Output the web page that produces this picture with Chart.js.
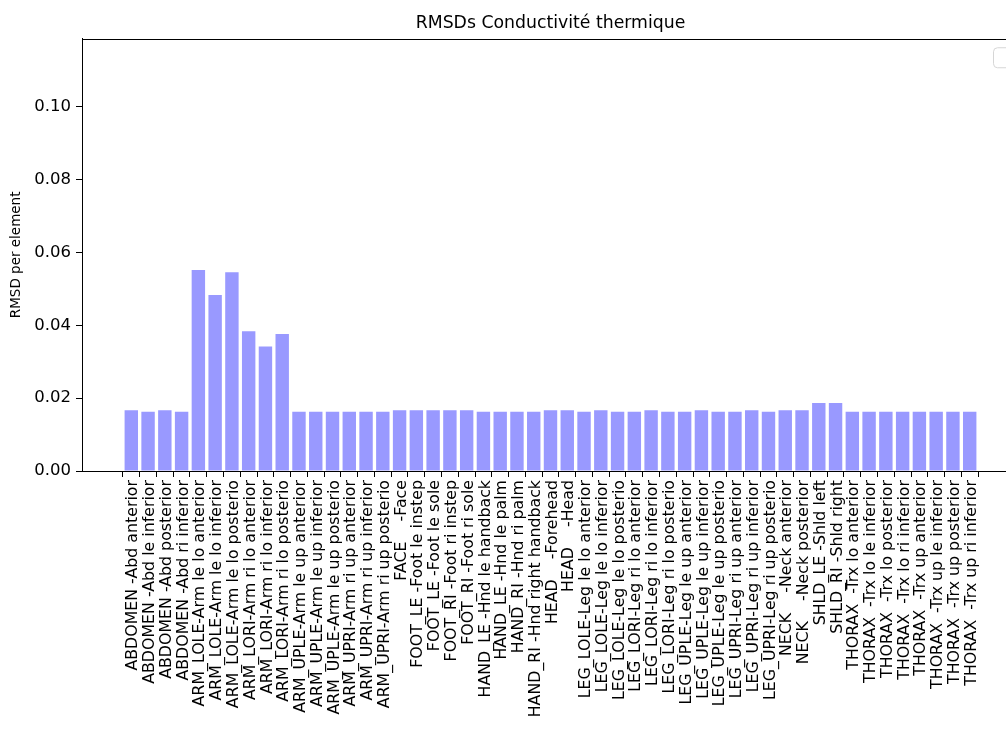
<!DOCTYPE html>
<html>
<head>
<meta charset="utf-8">
<script src="https://cdn.jsdelivr.net/npm/chart.js@4/dist/chart.umd.min.js"></script>
<style>
html,body{margin:0;padding:0;background:#fff;overflow:hidden;width:1006px;height:745px;}
#wrap{position:absolute;left:0;top:0;width:1040px;height:745px;}
</style>
</head>
<body>
<div id="wrap"><canvas id="c"></canvas></div>
<script>
const chartTitle = "RMSDs Conductivité thermique";
const yAxisTitle = "RMSD per element";
const xLabels = [
  "ABDOMEN -Abd anterior","ABDOMEN -Abd le inferior","ABDOMEN -Abd posterior","ABDOMEN -Abd ri inferior",
  "ARM_LOLE-Arm le lo anterior","ARM_LOLE-Arm le lo inferior","ARM_LOLE-Arm le lo posterio",
  "ARM_LORI-Arm ri lo anterior","ARM_LORI-Arm ri lo inferior","ARM_LORI-Arm ri lo posterio",
  "ARM_UPLE-Arm le up anterior","ARM_UPLE-Arm le up inferior","ARM_UPLE-Arm le up posterio",
  "ARM_UPRI-Arm ri up anterior","ARM_UPRI-Arm ri up inferior","ARM_UPRI-Arm ri up posterio",
  "FACE    -Face","FOOT_LE -Foot le instep","FOOT_LE -Foot le sole","FOOT_RI -Foot ri instep","FOOT_RI -Foot ri sole",
  "HAND_LE -Hnd le handback","HAND_LE -Hnd le palm","HAND_RI -Hnd ri palm","HAND_RI -Hnd right handback",
  "HEAD    -Forehead","HEAD    -Head",
  "LEG_LOLE-Leg le lo anterior","LEG_LOLE-Leg le lo inferior","LEG_LOLE-Leg le lo posterio",
  "LEG_LORI-Leg ri lo anterior","LEG_LORI-Leg ri lo inferior","LEG_LORI-Leg ri lo posterio",
  "LEG_UPLE-Leg le up anterior","LEG_UPLE-Leg le up inferior","LEG_UPLE-Leg le up posterio",
  "LEG_UPRI-Leg ri up anterior","LEG_UPRI-Leg ri up inferior","LEG_UPRI-Leg ri up posterio",
  "NECK    -Neck anterior","NECK    -Neck posterior","SHLD_LE -Shld left","SHLD_RI -Shld right",
  "THORAX  -Trx lo anterior","THORAX  -Trx lo le inferior","THORAX  -Trx lo posterior","THORAX  -Trx lo ri inferior",
  "THORAX  -Trx up anterior","THORAX  -Trx up le inferior","THORAX  -Trx up posterior","THORAX  -Trx up ri inferior"
];
const rmsdValues = [
  0.01667,0.0163,0.01667,0.0163,
  0.0552,0.04835,0.0546,
  0.03838,0.03415,0.03764,
  0.0163,0.0163,0.0163,
  0.0163,0.0163,0.0163,
  0.01667,0.01667,0.01667,0.01667,0.01667,
  0.0163,0.0163,0.0163,0.0163,
  0.01667,0.01667,
  0.0163,0.01667,0.0163,
  0.0163,0.01667,0.0163,
  0.0163,0.01667,0.0163,
  0.0163,0.01667,0.0163,
  0.01667,0.01667,0.01868,0.01868,
  0.0163,0.0163,0.0163,0.0163,
  0.0163,0.0163,0.0163,0.0163
];
const yTickValues = [0, 0.02, 0.04, 0.06, 0.08, 0.10];
const yMax = 0.11868;
const xMin = -2.94, xMax = 52.94;

const FONT = "DejaVu Sans";

const framePlugin = {
  id: 'frame',
  afterDraw(chart) {
    const {ctx, chartArea: a} = chart;
    ctx.save();
    ctx.strokeStyle = '#000';
    ctx.lineWidth = 1;
    ctx.strokeRect(Math.round(a.left) + 0.5, Math.round(a.top) + 0.5, Math.round(a.right - a.left), Math.round(a.bottom - a.top));
    // empty legend box (as in the reference)
    const lx = a.right - 25.5, ly = a.top + 9, lw = 40, lh = 20, r = 4;
    ctx.strokeStyle = '#d6d6d6';
    ctx.beginPath();
    ctx.moveTo(lx + r, ly); ctx.lineTo(lx + lw - r, ly); ctx.quadraticCurveTo(lx + lw, ly, lx + lw, ly + r);
    ctx.lineTo(lx + lw, ly + lh - r); ctx.quadraticCurveTo(lx + lw, ly + lh, lx + lw - r, ly + lh);
    ctx.lineTo(lx + r, ly + lh); ctx.quadraticCurveTo(lx, ly + lh, lx, ly + lh - r);
    ctx.lineTo(lx, ly + r); ctx.quadraticCurveTo(lx, ly, lx + r, ly);
    ctx.stroke();
    ctx.restore();
  }
};

new Chart(document.getElementById('c'), {
  type: 'bar',
  data: {
    datasets: [{
      data: rmsdValues.map((v, i) => ({x: i, y: v})),
      backgroundColor: '#9999ff',
      borderWidth: 0,
      barPercentage: 0.8,
      categoryPercentage: 1.0
    }]
  },
  options: {
    responsive: true,
    maintainAspectRatio: false,
    animation: false,
    layout: {padding: {left: 0, right: 21, top: 0, bottom: 0}},
    plugins: {
      legend: {display: false},
      tooltip: {enabled: false},
      title: {
        display: true,
        text: chartTitle,
        fullSize: false,
        color: '#000',
        font: {family: FONT, size: 17.3, weight: 'normal'},
        padding: {top: 13, bottom: 5}
      }
    },
    scales: {
      x: {
        type: 'linear',
        min: xMin,
        max: xMax,
        offset: false,
        grid: {display: true, drawOnChartArea: false, drawTicks: true, tickLength: 6, color: '#000', lineWidth: 1},
        border: {display: true, color: '#000', width: 1},
        ticks: {
          autoSkip: false,
          minRotation: 90,
          maxRotation: 90,
          padding: 3,
          labelOffset: 2,
          color: '#000',
          font: {family: FONT, size: 15.8},
          callback: (v) => xLabels[v]
        },
        afterBuildTicks: (s) => { s.ticks = xLabels.map((_, i) => ({value: i})); },
        afterFit: (s) => { s.height = 274; }
      },
      y: {
        min: 0,
        max: yMax,
        grid: {display: true, drawOnChartArea: false, drawTicks: true, tickLength: 6, color: '#000', lineWidth: 1},
        border: {display: true, color: '#000', width: 1},
        ticks: {
          padding: 5,
          color: '#000',
          font: {family: FONT, size: 16.5},
          callback: (v) => v.toFixed(2)
        },
        afterBuildTicks: (s) => { s.ticks = yTickValues.map(v => ({value: v})); },
        title: {
          display: true,
          text: yAxisTitle,
          color: '#000',
          font: {family: FONT, size: 13.5},
          padding: {top: 8, bottom: 0}
        },
        afterFit: (s) => { s.width = 82; }
      }
    }
  },
  plugins: [framePlugin]
});
</script>
</body>
</html>
